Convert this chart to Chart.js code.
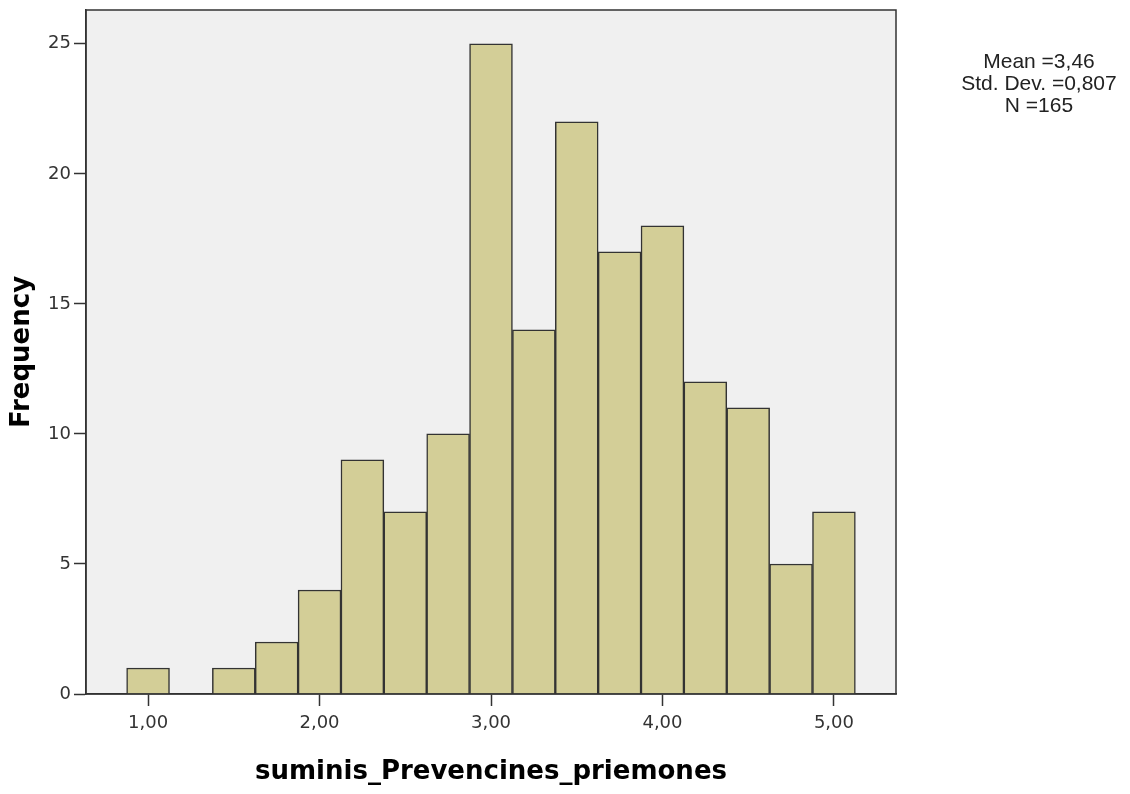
<!DOCTYPE html>
<html>
<head>
<meta charset="utf-8">
<script src="https://cdn.jsdelivr.net/npm/chart.js@4.4.1/dist/chart.umd.min.js"></script>
<style>
  body { margin: 0; background: #fff; }
  #wrap { position: relative; width: 1130px; height: 794px; }
  #stats {
    position: absolute; left: 939px; top: 50px; width: 200px;
    text-align: center; font: 21px "Liberation Sans", Arial, sans-serif;
    line-height: 22px; color: #222;
  }
</style>
</head>
<body>
<div id="wrap">
  <canvas id="hist" width="1130" height="794"></canvas>
  <div id="stats">Mean =3,46<br>Std. Dev. =0,807<br>N =165</div>
</div>
<script>
// bin centres (width 0,25) and counts
const binCenters = [1.00, 1.25, 1.50, 1.75, 2.00, 2.25, 2.50, 2.75, 3.00, 3.25, 3.50, 3.75, 4.00, 4.25, 4.50, 4.75, 5.00];
const frequencies = [1, 0, 1, 2, 4, 9, 7, 10, 25, 14, 22, 17, 18, 12, 11, 5, 7];
const xTicks = [1, 2, 3, 4, 5];
const xTickLabels = ['1,00', '2,00', '3,00', '4,00', '5,00'];
const yTicks = [0, 5, 10, 15, 20, 25];

const plotFrame = {
    id: 'plotFrame',
    beforeDraw(chart) {
        const { ctx, chartArea: a } = chart;
        ctx.save();
        ctx.fillStyle = '#f0f0f0';
        ctx.fillRect(a.left, a.top, a.right - a.left, a.bottom - a.top);
        ctx.restore();
    },
    afterDraw(chart) {
        const { ctx, chartArea: a } = chart;
        ctx.save();
        ctx.strokeStyle = '#333';
        ctx.lineWidth = 1.5;
        ctx.strokeRect(a.left, a.top, a.right - a.left, a.bottom - a.top);
        ctx.restore();
    }
};

const tickFont = { family: '"DejaVu Sans", sans-serif', size: 18 };
const titleFont = { family: '"DejaVu Sans", sans-serif', size: 26, weight: 'bold' };

new Chart(document.getElementById('hist'), {
    type: 'bar',
    data: {
        datasets: [{
            data: binCenters.map((x, i) => ({ x: x, y: frequencies[i] })),
            backgroundColor: '#d3ce97',
            borderColor: '#333',
            borderWidth: 1.5,
            barPercentage: 1,
            categoryPercentage: 1
        }]
    },
    options: {
        responsive: false,
        animation: false,
        events: [],
        layout: { padding: { top: 10, right: 234, bottom: 0, left: 0 } },
        plugins: { legend: { display: false }, tooltip: { enabled: false } },
        scales: {
            x: {
                type: 'linear',
                offset: false,
                min: 0.638,
                max: 5.362,
                afterBuildTicks: s => { s.ticks = xTicks.map(v => ({ value: v })); },
                afterFit: s => { s.height = 100; s.paddingLeft = 0; s.paddingRight = 0; },
                grid: { offset: false, drawOnChartArea: false, drawTicks: true, tickLength: 12, tickColor: '#333', tickWidth: 1.5 },
                border: { display: true, color: '#333', width: 1.5 },
                ticks: {
                    font: tickFont, color: '#333', padding: 7, maxRotation: 0,
                    callback: (v, i) => xTickLabels[i]
                },
                title: {
                    display: true, text: 'suminis_Prevencines_priemones',
                    font: titleFont, color: '#000', padding: { top: 0, bottom: 6 }
                }
            },
            y: {
                min: 0,
                max: 26.3,
                afterBuildTicks: s => { s.ticks = yTicks.map(v => ({ value: v })); },
                afterFit: s => { s.width = 86; s.paddingTop = 0; s.paddingBottom = 0; },
                grid: { drawOnChartArea: false, drawTicks: true, tickLength: 12, tickColor: '#333', tickWidth: 1.5 },
                border: { display: true, color: '#333', width: 1.5 },
                ticks: { font: tickFont, color: '#333', padding: 3 },
                title: {
                    display: true, text: 'Frequency',
                    font: titleFont, color: '#000', padding: { top: 7, bottom: 0 }
                }
            }
        }
    },
    plugins: [plotFrame]
});
</script>
</body>
</html>
